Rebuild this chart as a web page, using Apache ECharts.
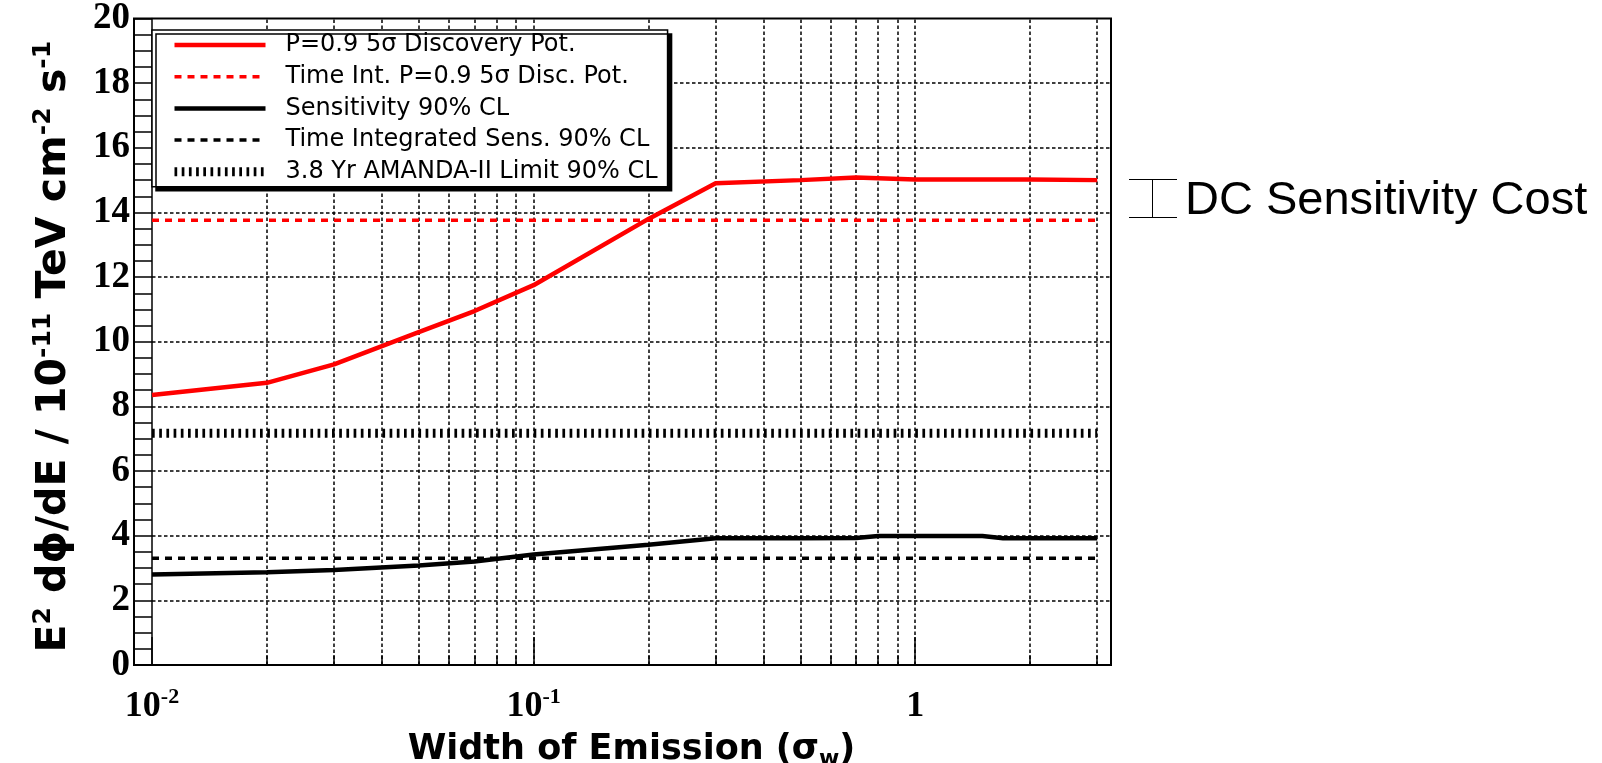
<!DOCTYPE html>
<html>
<head>
<meta charset="utf-8">
<script src="https://cdn.jsdelivr.net/npm/echarts@6/dist/echarts.min.js"></script>
<style>
html,body{margin:0;padding:0;background:#fff;}
#chart{width:1602px;height:763px;}
</style>
</head>
<body>
<div id="chart"></div>
<script>
// ---- data ----
const discWidths = [0.01, 0.02, 0.03, 0.05, 0.07, 0.1, 0.2, 0.3, 0.5, 0.7, 1, 2, 3];
const discoveryPot = [8.35, 8.73, 9.3, 10.3, 10.95, 11.75, 13.8, 14.9, 15.0, 15.08, 15.02, 15.02, 15.0];
const sensWidths = [0.01, 0.02, 0.03, 0.05, 0.07, 0.1, 0.2, 0.3, 0.5, 0.7, 0.8, 1.5, 1.7, 3];
const sensitivity = [2.8, 2.87, 2.94, 3.08, 3.2, 3.42, 3.72, 3.92, 3.92, 3.93, 3.99, 3.99, 3.92, 3.92];
const flatRange = [0.01, 3];
const timeIntDiscPot = 13.76;
const timeIntSens = 3.30;
const amandaLimit = 7.17;
const seriesNames = [
  'P=0.9 5\u03C3 Discovery Pot.',
  'Time Int. P=0.9 5\u03C3 Disc. Pot.',
  'Sensitivity 90% CL',
  'Time Integrated Sens. 90% CL',
  '3.8 Yr AMANDA-II Limit 90% CL'
];
const xGridValues = [0.02,0.03,0.04,0.05,0.06,0.07,0.08,0.09,0.1,0.2,0.3,0.4,0.5,0.6,0.7,0.8,0.9,1,2,3];
const xMinorTickValues = [0.02,0.03,0.04,0.05,0.06,0.07,0.08,0.09,0.2,0.3,0.4,0.5,0.6,0.7,0.8,0.9,2,3];
const xMin = 0.01, xMax = 3.26;
const yMin = 0, yMax = 20, yStep = 2;
const xTitle = 'Width of Emission (\u03C3{sub|w})';
const yTitle = 'E{sup|2} d\u03D5/dE / 10{sup|-11} TeV cm{sup|-2} s{sup|-1}';
const sideNote = 'DC Sensitivity Cost';

const pair = (xs, ys) => xs.map((x, i) => [x, ys[i]]);
const flat = v => flatRange.map(x => [x, v]);

const chart = echarts.init(document.getElementById('chart'), null, {renderer: 'canvas'});

const option = {
  animation: false,
  backgroundColor: '#fff',
  grid: [
    {left: 152, right: 491, top: 18.5, bottom: 98, show: false, outerBoundsMode: 'none', containLabel: false},
    {left: 134, right: 491, top: 18.5, bottom: 98, show: true, borderColor: '#000', borderWidth: 2,
     backgroundColor: 'transparent', outerBoundsMode: 'none', containLabel: false}
  ],
  xAxis: [
    {
      gridIndex: 0, type: 'log', logBase: 10, min: xMin, max: xMax,
      name: xTitle, nameLocation: 'middle', nameGap: 62,
      nameTextStyle: {
        fontFamily: 'DejaVu Sans', fontWeight: 'bold', fontSize: 35, color: '#000', lineHeight: 40,
        rich: {sub: {fontFamily: 'DejaVu Sans', fontWeight: 'bold', fontSize: 22, lineHeight: 22, verticalAlign: 'bottom', color: '#000'}}
      },
      axisLine: {show: true, lineStyle: {color: '#000', width: 2}},
      axisTick: {show: true, inside: true, length: 28, lineStyle: {color: '#000', width: 1.5}},
      minorTick: {show: false},
      splitLine: {show: false},
      axisLabel: {
        margin: 21,
        formatter: function (v) {
          const e = Math.log10(v), r = Math.round(e);
          if (Math.abs(e - r) > 1e-6) return '';
          return r === 0 ? '{b|1}' : '{b|10}{s|' + r + '}';
        },
        rich: {
          b: {fontFamily: 'Liberation Serif', fontWeight: 'bold', fontSize: 36, lineHeight: 42, color: '#000'},
          s: {fontFamily: 'Liberation Serif', fontWeight: 'bold', fontSize: 22, lineHeight: 16, verticalAlign: 'top', color: '#000'}
        }
      }
    },
    {gridIndex: 1, type: 'value', show: false, min: 0, max: 1}
  ],
  yAxis: [
    {
      gridIndex: 0, type: 'value', min: yMin, max: yMax, interval: yStep,
      name: yTitle, nameLocation: 'middle', nameGap: 75, nameRotate: 90,
      nameTextStyle: {
        fontFamily: 'DejaVu Sans', fontWeight: 'bold', fontSize: 41, color: '#000', lineHeight: 46,
        padding: [0, 10, 0, 0],
        rich: {sup: {fontFamily: 'DejaVu Sans', fontWeight: 'bold', fontSize: 25, lineHeight: 26, verticalAlign: 'top', color: '#000'}}
      },
      axisLine: {show: true, lineStyle: {color: '#000', width: 1.5}},
      axisTick: {show: true, inside: false, length: 18, lineStyle: {color: '#000', width: 1.5}},
      minorTick: {show: true, splitNumber: 4, length: 18, lineStyle: {color: '#000', width: 1.5}},
      splitLine: {show: true, showMinLine: false, showMaxLine: false, lineStyle: {color: '#000', width: 1.5, type: [3.5, 2.5]}},
      axisLabel: {fontFamily: 'Liberation Serif', fontWeight: 'bold', fontSize: 37, color: '#000', margin: 22}
    },
    {gridIndex: 1, type: 'value', show: false, min: 0, max: 1}
  ],
  legend: {
    orient: 'vertical', left: 152, top: 30, z: 6,
    itemWidth: 91, itemHeight: 14, itemGap: 7.7,
    padding: [3, 10, 3, 18],
    backgroundColor: '#fff', borderColor: '#000', borderWidth: 1.5,
    shadowColor: '#000', shadowBlur: 0, shadowOffsetX: 4, shadowOffsetY: 4,
    selectedMode: false,
    itemStyle: {opacity: 0},
    lineStyle: {width: 'inherit'},
    textStyle: {fontFamily: 'DejaVu Sans', fontSize: 24, color: '#000', lineHeight: 24, padding: [0, 0, 0, 15]},
    data: seriesNames
  },
  graphic: [
    {type: 'line', shape: {x1: 1129, y1: 179.5, x2: 1177, y2: 179.5}, style: {stroke: '#000', lineWidth: 1}},
    {type: 'line', shape: {x1: 1129, y1: 217.5, x2: 1177, y2: 217.5}, style: {stroke: '#000', lineWidth: 1}},
    {type: 'line', shape: {x1: 1152.5, y1: 179.5, x2: 1152.5, y2: 217.5}, style: {stroke: '#000', lineWidth: 1}},
    {type: 'text', x: 1185, y: 201, style: {text: sideNote, font: '47px "Liberation Sans"', fill: '#000', verticalAlign: 'middle', align: 'left'}}
  ],
  series: [
    {
      name: 'gridlines', type: 'line', xAxisIndex: 0, yAxisIndex: 0, data: [], symbol: 'none', silent: true, z: 1,
      markLine: {
        silent: true, z: 1, symbol: ['none', 'none'], label: {show: false}, animation: false,
        lineStyle: {color: '#000', width: 1.5, type: [3.5, 2.5]},
        data: xGridValues.map(v => ({xAxis: v}))
      }
    },
    {
      name: 'minorticks', type: 'line', xAxisIndex: 0, yAxisIndex: 0, data: [], symbol: 'none', silent: true, z: 1,
      markLine: {
        silent: true, z: 1, symbol: ['none', 'none'], label: {show: false}, animation: false,
        lineStyle: {color: '#000', width: 1.5, type: 'solid'},
        data: xMinorTickValues.map(v => [{coord: [v, 0]}, {coord: [v, 0.3]}])
      }
    },
    {
      name: seriesNames[0], type: 'line', data: pair(discWidths, discoveryPot), symbol: 'none', z: 5,
      lineStyle: {color: '#ff0000', width: 4.5}, itemStyle: {color: '#ff0000'}
    },
    {
      name: seriesNames[1], type: 'line', data: flat(timeIntDiscPot), symbol: 'none', z: 5,
      lineStyle: {color: '#ff0000', width: 3.5, type: [7, 6]}, itemStyle: {color: '#ff0000'}
    },
    {
      name: seriesNames[2], type: 'line', data: pair(sensWidths, sensitivity), symbol: 'none', z: 5,
      lineStyle: {color: '#000', width: 4.5}, itemStyle: {color: '#000'}
    },
    {
      name: seriesNames[3], type: 'line', data: flat(timeIntSens), symbol: 'none', z: 5,
      lineStyle: {color: '#000', width: 3.5, type: [7, 6]}, itemStyle: {color: '#000'}
    },
    {
      name: seriesNames[4], type: 'line', data: flat(amandaLimit), symbol: 'none', z: 5,
      lineStyle: {color: '#000', width: 9, type: [2.7, 4.5]}, itemStyle: {color: '#000'}
    }
  ]
};
chart.setOption(option);
</script>
</body>
</html>
